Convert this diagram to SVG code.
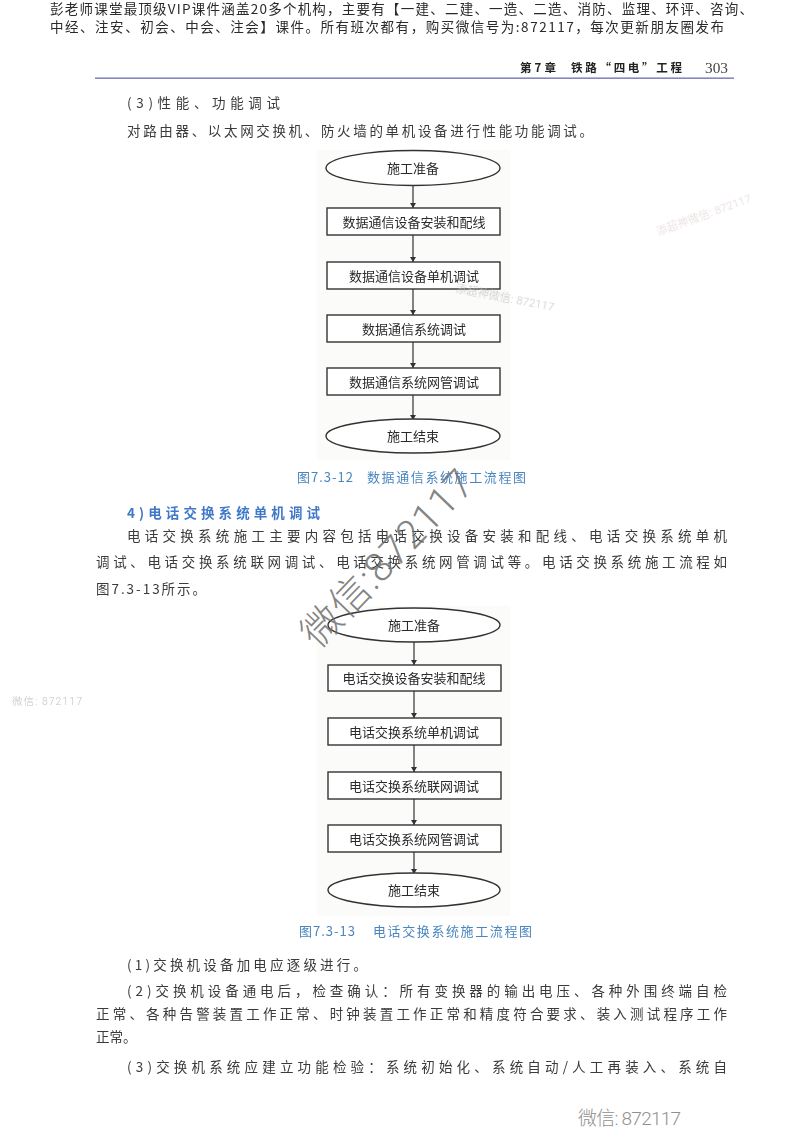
<svg xmlns="http://www.w3.org/2000/svg" width="800" height="1128" viewBox="0 0 800 1128">
<style>
text{font-family:"Noto Sans CJK SC","Noto Sans",sans-serif;}
.hd{font-size:13.5px;fill:#2a2a2a;}
.b{font-size:13.5px;fill:#3a3a3a;}
.cap{font-size:13px;fill:#4a86c0;}
.n{font-size:13px;fill:#2a2a2a;text-anchor:middle;}
.shape{fill:#fff;stroke:#333;stroke-width:1.4;}
.c{stroke:#333;stroke-width:1.2;fill:none;marker-end:url(#a);}
.wm{font-family:Roboto,"Noto Sans CJK SC",sans-serif;font-weight:300;}
</style>
<defs>
<marker id="a" markerWidth="6" markerHeight="6" refX="5" refY="3" orient="auto" markerUnits="userSpaceOnUse"><path d="M0 0L5 3L0 6Z" fill="#333"/></marker>
<filter id="s" x="0" y="0" width="1" height="1"><feGaussianBlur stdDeviation="0.3"/></filter>
<filter id="w" x="-.1" y="-.3" width="1.2" height="1.6"><feGaussianBlur stdDeviation="0.5"/></filter>
</defs>
<rect width="800" height="1128" fill="#fff"/>
<g filter="url(#s)">
<text class="hd" x="50" y="14" textLength="703" lengthAdjust="spacing">彭老师课堂最顶级VIP课件涵盖20多个机构，主要有【一建、二建、一造、二造、消防、监理、环评、咨询、</text>
<text class="hd" x="50" y="32" textLength="674" lengthAdjust="spacing">中经、注安、初会、中会、注会】课件。所有班次都有，购买微信号为:872117，每次更新朋友圈发布</text>
<text x="520" y="72" font-size="11.5" font-weight="700" fill="#222" textLength="36">第7章</text>
<text x="571" y="72" font-size="11.5" font-weight="700" fill="#222" textLength="111" lengthAdjust="spacing">铁路“四电”工程</text>
<text x="705" y="73" font-size="15" fill="#444" style="font-family:'Liberation Serif',serif" textLength="23" lengthAdjust="spacingAndGlyphs">303</text>
<rect x="95" y="77.5" width="639" height="1.3" fill="#6c6cae"/>
<text class="b" x="127" y="108" textLength="153" lengthAdjust="spacing">(3)性能、功能调试</text>
<text class="b" x="127" y="136" textLength="466" lengthAdjust="spacing">对路由器、以太网交换机、防火墙的单机设备进行性能功能调试。</text>

<rect x="317" y="150" width="193" height="310" fill="#fbfbfa"/>
<rect x="317" y="606" width="193" height="310" fill="#fbfbfa"/>

<g id="connectors">
<path class="c" d="M413 186V208"/><path class="c" d="M413 235V262"/><path class="c" d="M413 289V315"/><path class="c" d="M413 342V368"/><path class="c" d="M413 395V420"/>
<path class="c" d="M414 642V665"/><path class="c" d="M414 691V718"/><path class="c" d="M414 745V772"/><path class="c" d="M414 799V825"/><path class="c" d="M414 852V874"/>
</g>
<g id="n1"><ellipse class="shape" cx="413" cy="168" rx="87" ry="17.5"/><text class="n" x="413" y="173" font-size="13.5">施工准备</text></g>
<g id="n2"><rect class="shape" x="327" y="208" width="173" height="27"/><text class="n" x="414" y="227">数据通信设备安装和配线</text></g>
<g id="n3"><rect class="shape" x="327" y="262" width="173" height="27"/><text class="n" x="414" y="281">数据通信设备单机调试</text></g>
<g id="n4"><rect class="shape" x="327" y="315" width="173" height="27"/><text class="n" x="414" y="334">数据通信系统调试</text></g>
<g id="n5"><rect class="shape" x="327" y="368" width="173" height="27"/><text class="n" x="414" y="387">数据通信系统网管调试</text></g>
<g id="n6"><ellipse class="shape" cx="413" cy="436" rx="87" ry="17"/><text class="n" x="413" y="441">施工结束</text></g>

<text class="cap" x="297" y="482"><tspan letter-spacing="1">图7.3-12</tspan><tspan x="367" letter-spacing="1.6">数据通信系统施工流程图</tspan></text>
<text x="127" y="518" font-size="13.5" font-weight="700" fill="#3f78c8" textLength="193" lengthAdjust="spacing">4)电话交换系统单机调试</text>
<text class="b" x="127" y="541" textLength="600" lengthAdjust="spacing">电话交换系统施工主要内容包括电话交换设备安装和配线、电话交换系统单机</text>
<text class="b" x="96" y="567" textLength="631" lengthAdjust="spacing">调试、电话交换系统联网调试、电话交换系统网管调试等。电话交换系统施工流程如</text>
<text class="b" x="96" y="594" textLength="110" lengthAdjust="spacing">图7.3-13所示。</text>

<g id="m1"><ellipse class="shape" cx="414" cy="625" rx="86" ry="17"/><text class="n" x="414" y="630" font-size="13.5">施工准备</text></g>
<g id="m2"><rect class="shape" x="328" y="665" width="173" height="26"/><text class="n" x="414" y="683">电话交换设备安装和配线</text></g>
<g id="m3"><rect class="shape" x="328" y="718" width="173" height="27"/><text class="n" x="414" y="737">电话交换系统单机调试</text></g>
<g id="m4"><rect class="shape" x="328" y="772" width="173" height="27"/><text class="n" x="414" y="791">电话交换系统联网调试</text></g>
<g id="m5"><rect class="shape" x="328" y="825" width="173" height="27"/><text class="n" x="414" y="844">电话交换系统网管调试</text></g>
<g id="m6"><ellipse class="shape" cx="414" cy="890" rx="86" ry="17"/><text class="n" x="414" y="895">施工结束</text></g>

<text class="cap" x="299" y="936"><tspan letter-spacing="1">图7.3-13</tspan><tspan x="373" letter-spacing="1.6">电话交换系统施工流程图</tspan></text>
<text class="b" x="127" y="970" textLength="240" lengthAdjust="spacing">(1)交换机设备加电应逐级进行。</text>
<text class="b" x="127" y="996" textLength="600" lengthAdjust="spacing">(2)交换机设备通电后，检查确认：所有变换器的输出电压、各种外围终端自检</text>
<text class="b" x="96" y="1019" textLength="631" lengthAdjust="spacing">正常、各种告警装置工作正常、时钟装置工作正常和精度符合要求、装入测试程序工作</text>
<text class="b" x="96" y="1042">正常。</text>
<text class="b" x="127" y="1072" textLength="600" lengthAdjust="spacing">(3)交换机系统应建立功能检验：系统初始化、系统自动/人工再装入、系统自</text>
</g>

<text class="wm" transform="translate(318 650) rotate(-46)" font-size="40" fill="#6e6e6e" fill-opacity=".85" textLength="228" lengthAdjust="spacing">微信:872117</text>
<text class="wm" x="578" y="1125" font-size="19" fill="#909090" textLength="103" lengthAdjust="spacing">微信: 872117</text>
<text class="wm" x="12" y="705" font-size="10.5" fill="#c4c4c4" textLength="70" lengthAdjust="spacing" filter="url(#w)">微信: 872117</text>
<text class="wm" transform="translate(455 292) rotate(11)" font-size="11" fill="#c8c8c8" textLength="100" lengthAdjust="spacing" filter="url(#w)">添超神微信: 872117</text>
<text class="wm" transform="translate(658 236) rotate(-20)" font-size="11" fill="#e6d8d8" textLength="100" lengthAdjust="spacing" filter="url(#w)">添超神微信: 872117</text>
</svg>
